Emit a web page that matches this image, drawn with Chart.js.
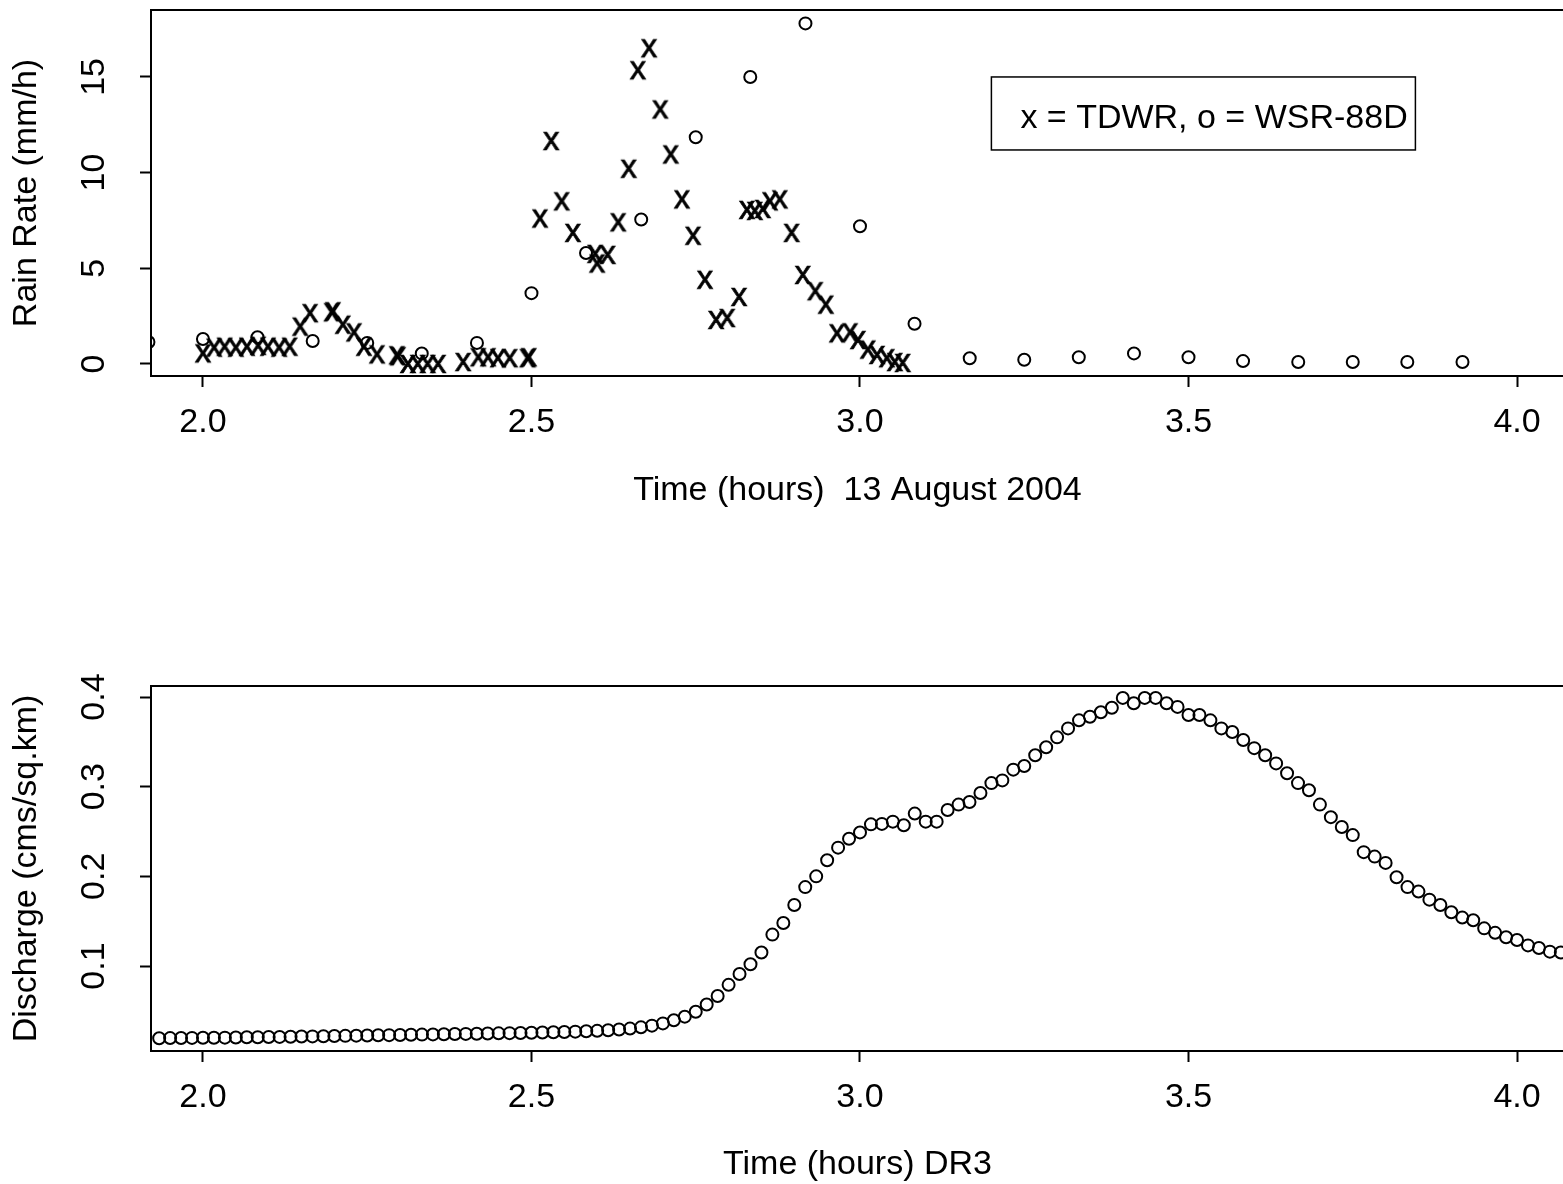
<!DOCTYPE html>
<html>
<head>
<meta charset="utf-8">
<script src="https://cdn.jsdelivr.net/npm/chart.js@4.4.1/dist/chart.umd.min.js"></script>
<style>
  html, body { margin: 0; padding: 0; background: #fff; overflow: hidden; }
  #wrap { position: relative; width: 1563px; height: 1184px; overflow: hidden; }
  #rainChart { position: absolute; left: 0; top: 0; }
  #flowChart { position: absolute; left: 0; top: 540px; }
</style>
</head>
<body>
<div id="wrap">
  <canvas id="rainChart" width="1564" height="540"></canvas>
  <canvas id="flowChart" width="1564" height="644"></canvas>
</div>
<script>
// ---- data ----
// TDWR rain rate (x markers), time in hours
const tdwrTime = [2.000, 2.017, 2.033, 2.050, 2.067, 2.084, 2.099, 2.116, 2.132, 2.148, 2.163,
  2.196, 2.198, 2.213, 2.230, 2.245, 2.265, 2.295, 2.297, 2.312, 2.327, 2.342, 2.358, 2.396,
  2.419, 2.434, 2.449, 2.467, 2.494, 2.496, 2.513, 2.530, 2.546, 2.563, 2.597, 2.600, 2.616,
  2.632, 2.648, 2.662, 2.679, 2.696, 2.712, 2.729, 2.746, 2.764, 2.781, 2.798, 2.816, 2.828,
  2.840, 2.852, 2.863, 2.878, 2.896, 2.913, 2.932, 2.948, 2.965, 2.985, 2.997, 3.012, 3.026,
  3.041, 3.053, 3.065];
const tdwrRain = [0.55, 0.85, 0.9, 0.85, 0.9, 0.95, 0.9, 0.85, 0.9, 1.95, 2.65,
  2.7, 2.75, 2.05, 1.65, 0.9, 0.5, 0.45, 0.4, 0.0, 0.0, 0.0, 0.0, 0.1,
  0.35, 0.35, 0.3, 0.3, 0.3, 0.35, 7.6, 11.65, 8.5, 6.85, 5.75, 5.25, 5.7,
  7.4, 10.2, 15.35, 16.5, 13.3, 10.95, 8.6, 6.7, 4.4, 2.3, 2.4, 3.5, 8.05,
  8.0, 8.1, 8.5, 8.6, 6.85, 4.65, 3.8, 3.1, 1.6, 1.65, 1.25, 0.75, 0.47,
  0.3, 0.1, 0.05];

// WSR-88D rain rate (o markers), every 5 minutes
const wsrTime = [1.917, 2.000, 2.083, 2.167, 2.250, 2.333, 2.417, 2.500, 2.583, 2.667, 2.750,
  2.833, 2.917, 3.000, 3.083, 3.167, 3.250, 3.333, 3.417, 3.500, 3.583, 3.667, 3.750, 3.833, 3.917];
const wsrRain = [1.15, 1.3, 1.4, 1.2, 1.1, 0.55, 1.1, 3.7, 5.8, 7.55, 11.85,
  15.0, 17.8, 7.2, 2.1, 0.3, 0.22, 0.35, 0.55, 0.35, 0.15, 0.1, 0.1, 0.1, 0.1];

// DR3 discharge, one value per minute starting at minute 116 (1.933 h)
const dischargeStartMin = 116;
const discharge = [
  0.0195, 0.0196, 0.0197, 0.0198, 0.0199, 0.0200, 0.0201, 0.0203, 0.0205, 0.0206,
  0.0208, 0.0209, 0.0211, 0.0213, 0.0215, 0.0217, 0.0219, 0.0221, 0.0223, 0.0225,
  0.0227, 0.0229, 0.0231, 0.0233, 0.0235, 0.0237, 0.0239, 0.0241, 0.0243, 0.0245,
  0.0247, 0.0249, 0.0251, 0.0253, 0.0255, 0.0258, 0.0261, 0.0264, 0.0268, 0.0272,
  0.0277, 0.0284, 0.0292, 0.0302, 0.0316, 0.0335, 0.0360, 0.0395, 0.0435, 0.0490,
  0.0570, 0.0665, 0.0790, 0.0910, 0.1020, 0.1150, 0.1350, 0.1480, 0.1680, 0.1880,
  0.2000, 0.2180, 0.2320, 0.2420, 0.2490, 0.2580, 0.2585, 0.2610, 0.2570, 0.2700,
  0.2610, 0.2610, 0.2740, 0.2800, 0.2830, 0.2930, 0.3040, 0.3070, 0.3190, 0.3230,
  0.3350, 0.3440, 0.3550, 0.3650, 0.3740, 0.3780, 0.3830, 0.3880, 0.3990, 0.3930,
  0.3990, 0.3990, 0.3930, 0.3890, 0.3800, 0.3800, 0.3740, 0.3650, 0.3610, 0.3520,
  0.3430, 0.3350, 0.3260, 0.3150, 0.3040, 0.2960, 0.2800, 0.2660, 0.2550, 0.2460,
  0.2270, 0.2220, 0.2150, 0.1990, 0.1880, 0.1830, 0.1740, 0.1680, 0.1600, 0.1540,
  0.1510, 0.1420, 0.1370, 0.1320, 0.1290, 0.1230, 0.1200, 0.1160, 0.1150];

// axis ticks
const timeTicks = [2.0, 2.5, 3.0, 3.5, 4.0];
const rainTicks = [0, 5, 10, 15];
const rainTickLabels = ['0', '5', '10', '15'];
const flowTicks = [0.1, 0.2, 0.3, 0.4];
const flowTickLabels = ['0.1', '0.2', '0.3', '0.4'];

const FONT = '"Liberation Sans", Arial, Helvetica, sans-serif';
const FONT_SIZE = 34;
Chart.defaults.font.family = FONT;
Chart.defaults.font.size = FONT_SIZE;
Chart.defaults.color = '#000';

// R style "x" character marker
function makeXMark() {
  const c = document.createElement('canvas');
  c.width = 24;
  c.height = 24;
  const g = c.getContext('2d');
  g.fillStyle = '#000';
  g.strokeStyle = '#000';
  g.lineWidth = 0.7;
  g.font = '33px ' + FONT;
  g.textAlign = 'center';
  g.textBaseline = 'alphabetic';
  g.fillText('x', 12, 12 + 0.26 * 33);
  g.strokeText('x', 12, 12 + 0.26 * 33);
  return c;
}
const xMark = makeXMark();

// box around the plot, rotated y tick labels, legend box
const rBox = {
  id: 'rbox',
  afterDraw(chart, args, opts) {
    const { ctx, chartArea: a, scales } = chart;
    ctx.save();
    ctx.strokeStyle = '#000';
    ctx.lineWidth = 2;
    ctx.strokeRect(a.left, a.top, a.right - a.left, a.bottom - a.top);

    ctx.fillStyle = '#000';
    ctx.font = FONT_SIZE + 'px ' + FONT;
    ctx.textAlign = 'center';
    ctx.textBaseline = 'middle';
    opts.yValues.forEach((v, i) => {
      const y = scales.y.getPixelForValue(v);
      ctx.save();
      ctx.translate(opts.labelX, y);
      ctx.rotate(-Math.PI / 2);
      ctx.fillText(opts.yLabels[i], 0, 0);
      ctx.restore();
    });

    if (opts.legend) {
      const lx = scales.x.getPixelForValue(opts.legend.x);
      const ly = scales.y.getPixelForValue(opts.legend.y);
      ctx.lineWidth = 1.5;
      ctx.strokeRect(lx, ly, 424, 73);
      ctx.textAlign = 'left';
      ctx.textBaseline = 'alphabetic';
      ctx.fillText(opts.legend.text, lx + 29, ly + 51);
    }
    ctx.restore();
  }
};

function timeAxis(title, axisHeight, titlePad, tickPad) {
  return {
    type: 'linear',
    position: 'bottom',
    min: 1.9209,
    max: 4.0715,
    afterBuildTicks: s => { s.ticks = timeTicks.map(v => ({ value: v })); },
    afterFit: s => { s.height = axisHeight; },
    ticks: { callback: v => v.toFixed(1), padding: tickPad, autoSkip: false, maxRotation: 0, color: '#000' },
    grid: { drawOnChartArea: false, drawTicks: true, tickLength: 11, tickWidth: 2, tickColor: '#000' },
    border: { display: false },
    title: { display: true, text: title, color: '#000', padding: { top: 0, bottom: titlePad } }
  };
}

function valueAxis(title, min, max, ticks) {
  return {
    min: min,
    max: max,
    afterBuildTicks: s => { s.ticks = ticks.map(v => ({ value: v })); },
    afterFit: s => { s.width = 151; },
    ticks: { display: false },
    grid: { drawOnChartArea: false, drawTicks: true, tickLength: 11, tickWidth: 2, tickColor: '#000' },
    border: { display: false },
    title: { display: true, text: title, color: '#000', padding: { top: 6, bottom: 0 } }
  };
}

// top panel: rain rates
new Chart(document.getElementById('rainChart'), {
  type: 'scatter',
  data: {
    datasets: [
      {
        label: 'TDWR',
        data: tdwrTime.map((t, i) => ({ x: t, y: tdwrRain[i] })),
        pointStyle: xMark,
        pointRadius: 8,
        clip: 0
      },
      {
        label: 'WSR-88D',
        data: wsrTime.map((t, i) => ({ x: t, y: wsrRain[i] })),
        pointStyle: 'circle',
        pointRadius: 6,
        borderWidth: 2,
        borderColor: '#000',
        backgroundColor: 'rgba(0,0,0,0)',
        clip: 0
      }
    ]
  },
  options: {
    responsive: false,
    animation: false,
    layout: { autoPadding: false, padding: { top: 10, left: 0, right: 0, bottom: 0 } },
    plugins: {
      legend: { display: false },
      tooltip: { enabled: false },
      rbox: {
        yValues: rainTicks, yLabels: rainTickLabels, labelX: 94.5,
        legend: { x: 3.2, y: 15, text: 'x = TDWR, o = WSR-88D' }
      }
    },
    scales: {
      x: timeAxis('Time (hours)  13 August 2004', 164, 29, 15),
      y: valueAxis('Rain Rate (mm/h)', -0.63, 18.5, rainTicks)
    }
  },
  plugins: [rBox]
});

// bottom panel: discharge
new Chart(document.getElementById('flowChart'), {
  type: 'scatter',
  data: {
    datasets: [{
      label: 'Discharge',
      data: discharge.map((q, i) => ({ x: (dischargeStartMin + i) / 60, y: q })),
      pointStyle: 'circle',
      pointRadius: 6,
      borderWidth: 2,
      borderColor: '#000',
      backgroundColor: 'rgba(0,0,0,0)',
      clip: 0
    }]
  },
  options: {
    responsive: false,
    animation: false,
    layout: { autoPadding: false, padding: { top: 146, left: 0, right: 0, bottom: 0 } },
    plugins: {
      legend: { display: false },
      tooltip: { enabled: false },
      rbox: { yValues: flowTicks, yLabels: flowTickLabels, labelX: 94.5 }
    },
    scales: {
      x: timeAxis('Time (hours) DR3', 133, -1, 15),
      y: valueAxis('Discharge (cms/sq.km)', 0.0052, 0.4123, flowTicks)
    }
  },
  plugins: [rBox]
});
</script>
</body>
</html>
